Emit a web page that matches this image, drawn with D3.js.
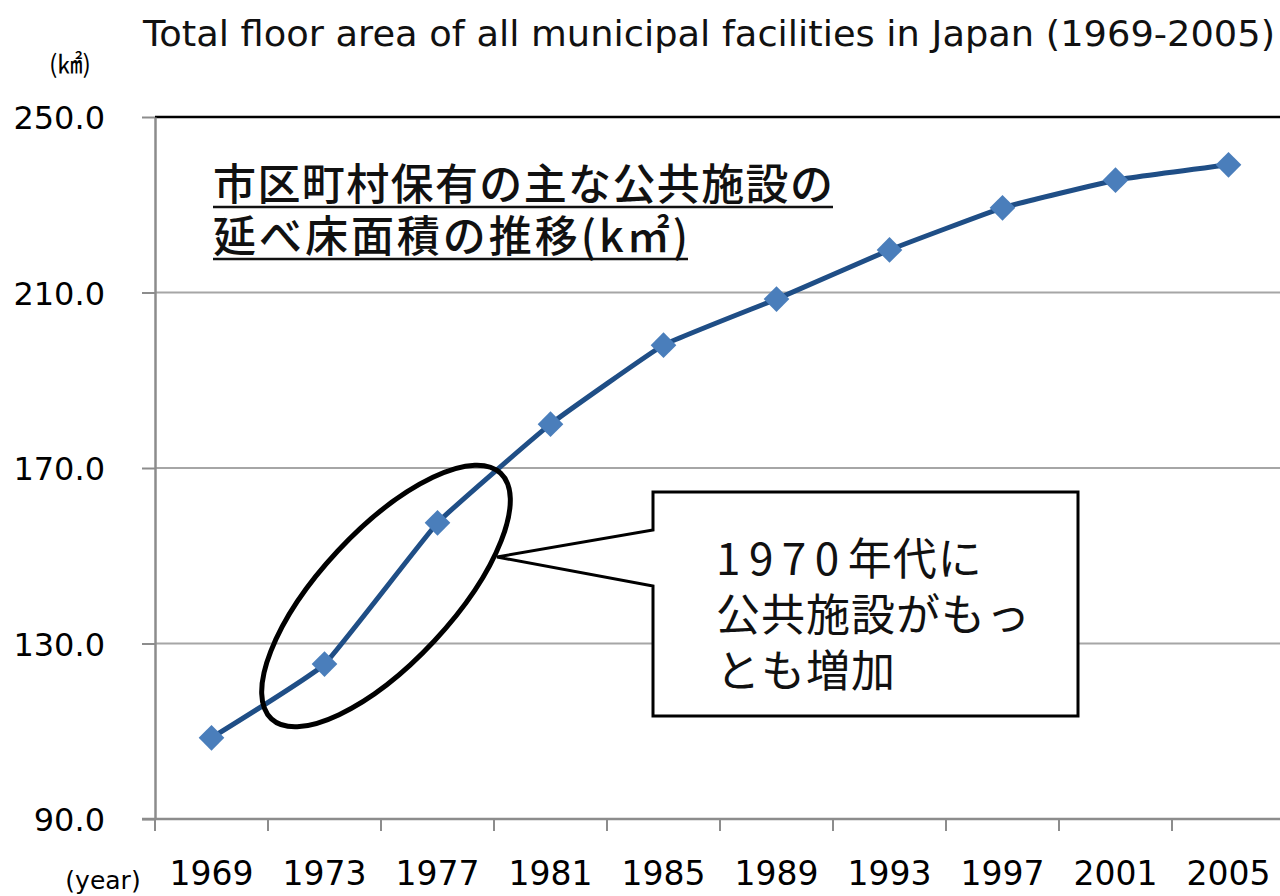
<!DOCTYPE html>
<html lang="ja">
<head>
    <meta charset="UTF-8">
    <title>Total floor area</title>
    <script src="https://cdn.jsdelivr.net/npm/d3@7/dist/d3.min.js"></script>
    <style>
        body { margin: 0; background: #fff; }
        svg { display: block; }
    </style>
</head>
<body>
    <svg width="1280" height="896" id="mainsvg"></svg>
    <script>
        // data
        const years = ["1969","1973","1977","1981","1985","1989","1993","1997","2001","2005"]
        const area = [108.5, 125.3, 157.5, 180.0, 198.0, 208.5, 219.7, 229.3, 235.6, 239.1]
        const yTicks = [90, 130, 170, 210, 250]
        const titleText = "Total floor area of all municipal facilities in Japan (1969-2005)"
        const innerTitle = ["市区町村保有の主な公共施設の", "延べ床面積の推移(k㎡)"]
        const calloutText = [["1970", "年代に"], ["", "公共施設がもっ"], ["", "とも増加"]]

        const svg = d3.select('svg')
        const latin = "'DejaVu Sans', Verdana, sans-serif"
        const cjk = "'Noto Sans CJK JP', sans-serif"

        const x = d3.scaleBand().domain(years).range([155, 1285])
        const y = d3.scaleLinear().domain([90, 250]).range([819, 117])
        const cx = d => x(d) + x.bandwidth() / 2

        // gridlines
        svg.append('g').selectAll('line').data(yTicks.filter(t => t !== 90 && t !== 250)).join('line')
            .attr('x1', 155).attr('x2', 1280)
            .attr('y1', d => y(d)).attr('y2', d => y(d))
            .attr('stroke', '#a6a6a6').attr('stroke-width', 2)
        // top border
        svg.append('line').attr('x1', 155).attr('x2', 1280)
            .attr('y1', y(250)).attr('y2', y(250))
            .attr('stroke', '#000').attr('stroke-width', 2.5)

        // y axis
        const yAxis = svg.append('g').attr('transform', 'translate(155,0)')
            .call(d3.axisLeft(y).tickValues(yTicks).tickFormat(d3.format('.1f')).tickSize(13).tickSizeOuter(0))
        yAxis.select('.domain').attr('stroke', '#8c8c8c').attr('stroke-width', 2.5)
        yAxis.selectAll('.tick line').attr('stroke', '#8c8c8c').attr('stroke-width', 2)
        yAxis.selectAll('.tick text').attr('x', -50).attr('dy', '0.36em')
            .attr('font-family', latin).attr('font-size', 32).attr('fill', '#000')

        // x axis
        const xAxis = svg.append('g').attr('transform', `translate(0,${y(90)})`)
            .call(d3.axisBottom(x).tickSize(0).tickSizeOuter(0))
        xAxis.select('.domain').attr('stroke', '#8c8c8c').attr('stroke-width', 2.5)
            .attr('d', 'M142,0H1280')
        xAxis.selectAll('.tick text').attr('y', 66).attr('dy', 0)
            .attr('font-family', latin).attr('font-size', 33).attr('fill', '#000')
        // boundary ticks between categories
        xAxis.append('g').selectAll('line').data(years).join('line')
            .attr('x1', d => x(d)).attr('x2', d => x(d))
            .attr('y1', 0).attr('y2', 12)
            .attr('stroke', '#8c8c8c').attr('stroke-width', 2)

        // unit labels
        svg.append('text').attr('x', 70).attr('y', 73).attr('text-anchor', 'middle')
            .attr('font-family', cjk).attr('font-size', 25).text('(㎢)')
        svg.append('text').attr('x', 103).attr('y', 889).attr('text-anchor', 'middle')
            .attr('font-family', latin).attr('font-size', 25).text('(year)')

        // title
        svg.append('text').attr('x', 143).attr('y', 46)
            .attr('font-family', latin).attr('font-size', 35).attr('fill', '#111')
            .attr('textLength', 1132).attr('lengthAdjust', 'spacingAndGlyphs')
            .text(titleText)

        // inner japanese title with underline
        const innerLen = [620, 475]
        innerTitle.forEach((t, i) => {
            svg.append('text').attr('x', 213).attr('y', 200 + i * 52)
                .attr('font-family', cjk).attr('font-size', 43).attr('font-weight', 500).attr('fill', '#111')
                .attr('textLength', innerLen[i]).attr('lengthAdjust', 'spacing')
                .text(t)
            svg.append('line').attr('x1', 213).attr('x2', 213 + innerLen[i])
                .attr('y1', 207 + i * 52).attr('y2', 207 + i * 52)
                .attr('stroke', '#111').attr('stroke-width', 2.5)
        })

        // line
        const line = d3.line().x((d, i) => cx(years[i])).y(d => y(d)).curve(d3.curveCardinal.tension(0.7))
        svg.append('path').datum(area)
            .attr('d', line).attr('fill', 'none')
            .attr('stroke', '#1f4e86').attr('stroke-width', 5)
        svg.append('g').selectAll('path').data(area).join('path')
            .attr('d', d3.symbol().type(d3.symbolDiamond2).size(420))
            .attr('transform', (d, i) => `translate(${cx(years[i])},${y(d)})`)
            .attr('fill', '#4a7ebb')

        // ellipse around 1970s segment
        svg.append('ellipse')
            .attr('cx', 386).attr('cy', 596).attr('rx', 168).attr('ry', 66)
            .attr('transform', 'rotate(-47,386,596)')
            .attr('fill', 'none').attr('stroke', '#000').attr('stroke-width', 5)

        // callout box
        svg.append('path')
            .attr('d', 'M653,492H1078V716H653V586L497,557L653,530Z')
            .attr('fill', '#fff').attr('stroke', '#000').attr('stroke-width', 3)
        calloutText.forEach((parts, i) => {
            const t = svg.append('text').attr('x', 716).attr('y', 575 + i * 56)
                .attr('font-family', cjk).attr('font-size', 44).attr('fill', '#111')
            if (parts[0]) t.append('tspan').attr('letter-spacing', 8.5).text(parts[0])
            t.append('tspan').attr('letter-spacing', 1).text(parts[1])
        })
    </script>
</body>
</html>
